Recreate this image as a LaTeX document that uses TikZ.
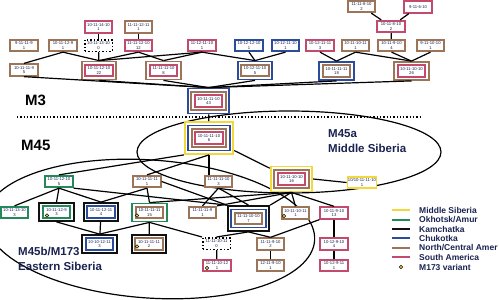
\documentclass[tikz,border=0pt]{standalone}
\usepackage{fontspec}
\setmainfont{Liberation Sans}
\usetikzlibrary{calc}
\definecolor{msyellow}{HTML}{F2D93B}
\definecolor{okgreen}{HTML}{23895A}
\definecolor{kablack}{HTML}{111111}
\definecolor{chblue}{HTML}{2B4C9A}
\definecolor{natan}{HTML}{9C7558}
\definecolor{sared}{HTML}{C24A6C}
\definecolor{inknavy}{HTML}{1A2350}

\begin{document}
\begin{tikzpicture}[
    x=1pt, y=-1pt,
    font=\fontsize{4.2}{4.7}\selectfont,
    hap/.style={draw=#1, fill=white, line width=1.8pt, minimum width=27.5pt, minimum height=11.5pt, inner sep=0.5pt, align=center, text=inknavy},
    ghost/.style={draw=black, dotted, fill=white, line width=1.5pt, minimum width=27.5pt, minimum height=11.5pt, inner sep=0.5pt, align=center, text=inknavy},
    ringa/.style={draw=#1, fill=white, line width=1.8pt, minimum width=34.5pt, minimum height=18pt, inner sep=0pt},
    ringb/.style={ringa=#1, minimum width=41.5pt, minimum height=25pt},
    ringc/.style={ringa=#1, minimum width=48.5pt, minimum height=32pt},
    link/.style={draw=black, line width=1.2pt},
    zone/.style={draw=black, line width=1.2pt},
    split/.style={draw=black, dotted, line width=1.3pt},
    clade/.style={font=\bfseries\fontsize{15}{18}\selectfont, text=black, anchor=base west, inner sep=0pt},
    region/.style={font=\bfseries\fontsize{11.5}{15}\selectfont, text=inknavy, align=left, anchor=north west, inner sep=0pt},
    key/.style={font=\bfseries\fontsize{8.5}{10}\selectfont, text=inknavy, anchor=west, inner sep=0pt},
    swatch/.style={line width=2pt},
    vmark/.style={circle, fill=msyellow, draw=kablack, line width=0.5pt, inner sep=0pt, minimum size=3.5pt},
]
    \useasboundingbox (0,0) rectangle (499,300);

    % =====================================================================
    % ZONES
    % =====================================================================
    \draw[zone] (289,152) ellipse [x radius=152, y radius=41];
    \draw[zone, rotate around={-4:(150,229)}] (150,229) ellipse [x radius=165, y radius=69];
    \draw[split] (17,117) -- (422,117);

    \node[clade] (lblm3) at (25,105) {M3};
    \node[clade] (lblm45) at (21,150) {M45};
    \node[region] (lblm45a) at (328,129) {M45a\\Middle Siberia};
    \node[region] (lblm45b) at (18,247) {M45b/M173\\Eastern Siberia};

    % =====================================================================
    % M3 NETWORK
    % =====================================================================
    \node[hap=natan] (a1) at (361.5,6.5) {11-11-8-10\\2};
    \node[hap=sared] (a2) at (418,7) {9-11-6-10};
    \node[hap=sared] (a3) at (391,26.5) {10-11-8-10\\2};

    \node[hap=sared] (b1) at (98.5,27) {10-11-14-10\\1};
    \node[hap=natan] (b2) at (138.5,27) {11-11-12-11\\1};

    \node[hap=natan] (c1) at (24,45.5) {9-11-11-9\\1};
    \node[hap=natan] (c2) at (63,45.5) {10-11-12-9\\1};
    \node[ghost] (c3) at (98.5,45.5) {10-11-13-10\\0};
    \node[hap=sared] (c4) at (138.5,45.5) {11-11-12-10\\12};
    \node[hap=sared] (c5) at (202,45.5) {11-12-11-10\\1};
    \node[hap=chblue] (c6) at (249,45.5) {10-12-12-10\\1};
    \node[hap=chblue] (c7) at (285.5,45.5) {10-12-11-10\\1};
    \node[hap=sared] (c8) at (320,45.5) {10-12-11-11\\3};
    \node[hap=natan] (c9) at (355.5,45.5) {10-11-10-11\\1};
    \node[hap=natan] (c10) at (391.5,45.5) {10-11-9-10\\4};
    \node[hap=natan] (c11) at (430.5,45.5) {9-11-10-10\\1};

    \node[hap=natan] (d1) at (24,70) {10-11-11-9\\5};
    \node[ringa=natan] (d2) at (99,70.5) {};
    \node[hap=sared] (d2in) at (99,70.5) {10-11-12-10\\22};
    \node[ringa=natan] (d3) at (163.5,70.5) {};
    \node[hap=sared] (d3in) at (163.5,70.5) {11-11-11-10\\8};
    \node[ringa=chblue] (d4) at (255,70.5) {};
    \node[hap=natan] (d4in) at (255,70.5) {10-12-11-10\\5};
    \node[ringa=chblue] (d5) at (336.5,71) {};
    \node[hap=natan] (d5in) at (336.5,71) {10-11-11-11\\18};
    \node[ringa=natan] (d6) at (411.5,71) {};
    \node[hap=sared] (d6in) at (411.5,71) {10-11-10-10\\26};

    \node[ringb=chblue] (root3) at (208.5,101) {};
    \node[ringa=natan] (root3b) at (208.5,101) {};
    \node[hap=sared] (root3in) at (208.5,101) {10-11-11-10\\43};

    \draw[link] (a1) -- (a3);
    \draw[link] (a2) -- (a3);
    \draw[link] (a3) -- (c10);
    \draw[link] (b1) -- (c3);
    \draw[link] (b2) -- (c4);
    \draw[link] (c2.south) -- (d1.north);
    \draw[link] (c2.south) -- (d2.north);
    \draw[link] (c3) -- (d2);
    \draw[link] (c4.south) -- (d2.north);
    \draw[link] (c4.south) -- (d3.north);
    \draw[link] (c5.south) -- (d2.north);
    \draw[link] (c5.south) -- (d3.north);
    \draw[link] (c5.south) -- (d4.north);
    \draw[link] (c6.south) -- (d4.north);
    \draw[link] (c7.south) -- (d4.north);
    \draw[link] (c8.south) -- (d5.north);
    \draw[link] (c9.south) -- (d5.north);
    \draw[link] (c9.south) -- (d6.north);
    \draw[link] (c10.south) -- (d6.north);
    \draw[link] (c11.south) -- (d6.north);
    \draw[link] (d1.south) -- (root3.north);
    \draw[link] (d2.south) -- (root3.north);
    \draw[link] (d3.south) -- (root3.north);
    \draw[link] (d4.south) -- (root3.north);
    \draw[link] (d5.south) -- (root3.north);
    \draw[link] (d6.south) -- (root3.north);

    % =====================================================================
    % M45 NETWORK
    % =====================================================================
    \node[ringc=msyellow] (root45) at (209,138) {};
    \node[ringb=chblue] (root45b) at (209,138) {};
    \node[ringa=natan] (root45c) at (209,138) {};
    \node[hap=sared] (root45in) at (209,138) {10-11-11-10\\6};
    \draw[link] (root3) -- (root45);

    \node[hap=okgreen] (ok5) at (59,181.5) {10-11-12-10\\5};
    \node[hap=natan] (nc1) at (147,181.5) {10-11-11-11\\1};
    \node[hap=natan] (nc3) at (218.5,181.5) {11-11-11-10\\3};
    \node[ringb=msyellow] (nc16) at (291.5,179) {};
    \node[ringa=natan] (nc16b) at (291.5,179) {};
    \node[hap=sared] (nc16in) at (291.5,179) {10-11-10-10\\16};
    \node[hap=msyellow] (ms1) at (362,182.5) {10/10-11-11-10\\1};

    \node[hap=okgreen] (ok3) at (14.5,212.5) {10-11-13-10\\3};
    \node[ringa=kablack] (ka3) at (56.5,212) {};
    \node[hap=okgreen] (ka3in) at (56.5,212) {10-11-12-9\\3};
    \node[ringa=kablack] (ch4) at (101,212) {};
    \node[hap=chblue] (ch4in) at (101,212) {10-11-12-11\\4};
    \node[ringa=okgreen] (ok15) at (149.5,212.5) {};
    \node[hap=natan] (ok15in) at (149.5,212.5) {10-11-11-11\\15};
    \node[hap=natan] (nc1b) at (202.5,212.5) {11-11-11-9\\1};
    \node[ringb=kablack] (ch7) at (248.5,218.5) {};
    \node[ringa=chblue] (ch7b) at (248.5,218.5) {};
    \node[hap=natan] (ch7in) at (248.5,218.5) {11-11-10-10\\7};
    \node[hap=natan] (nc1c) at (295.5,213) {10-11-10-11\\1};
    \node[hap=sared] (sa13) at (334,213) {10-11-9-10\\13};

    \node[ringa=kablack] (ch3) at (99.5,244) {};
    \node[hap=chblue] (ch3in) at (99.5,244) {10-10-12-11\\3};
    \node[ringa=kablack] (ka2) at (149,244) {};
    \node[hap=natan] (ka2in) at (149,244) {10-11-11-11\\2};
    \node[ghost] (gap0) at (216.5,243.5) {11-11-10-11\\0};
    \node[hap=natan] (nc2) at (270.5,244) {11-11-9-10\\2};
    \node[hap=sared] (sa4) at (334,244) {10-12-9-10\\4};

    \node[hap=sared] (sa1) at (217,265.5) {11-11-10-12\\1};
    \node[hap=natan] (nc1d) at (270.5,265.5) {12-11-9-10\\1};
    \node[hap=sared] (sa1b) at (334,265.5) {10-12-9-11\\1};

    % M173 variant marks
    \node[vmark] (v1) at (47,215.5) {};
    \node[vmark] (v2) at (137,215.5) {};
    \node[vmark] (v3) at (137,246.5) {};
    \node[vmark] (v4) at (284,216) {};
    \node[vmark] (v5) at (207,268) {};

    \draw[link] (root45.south west) -- (ok5.north);
    \draw[link] (root45.south) -- (nc1.north);
    \draw[link] (root45.south) -- (root45.south |- nc3.north);
    \draw[link] (root45) -- (nc16);
    \draw[link] (ok5.south) -- (ok3.north);
    \draw[link] (ok5.south) -- (ka3.north);
    \draw[link] (ok5.south) -- (ch4.north);
    \draw[link] (ok5.south east) -- (ch7.north west);
    \draw[link] (nc1.south) -- (ch4.north);
    \draw[link] (nc1.south) -- (ok15.north);
    \draw[link] (nc1.east) -- (ch7.north west);
    \draw[link] (nc3.south) -- (nc1b.north);
    \draw[link] (nc3.south) -- (ch7.north);
    \draw[link] (nc16.south) -- (ok15.north);
    \draw[link] (nc16.south) -- (nc1b.north east);
    \draw[link] (nc16.south) -- (ch7.north east);
    \draw[link] (nc16.south) -- (nc1c.north);
    \draw[link] (nc16.south) -- (sa13.north);
    \draw[link] (nc16.east) -- (ms1.west);
    \draw[link] (ka3.south) -- (ch3.north);
    \draw[link] (ch4) -- (ch3);
    \draw[link] (ok15.south) -- (ch3.north);
    \draw[link] (ok15) -- (ka2);
    \draw[link] (ok15.south) -- (gap0.north west);
    \draw[link] (ch7.south) -- (gap0.north);
    \draw[link] (ch7.south) -- (nc2.north);
    \draw[link] (sa13.south west) -- (nc2.north);
    \draw[link] (sa13) -- (sa4);
    \draw[link] (sa4) -- (sa1b);
    \draw[link] (nc2) -- (nc1d);
    \draw[link] (gap0) -- (sa1);

    % =====================================================================
    % LEGEND
    % =====================================================================
    \draw[swatch, msyellow] (392,210) -- (410,210);
    \node[key] (keyms) at (419,210) {Middle Siberia};
    \draw[swatch, okgreen] (392,219.5) -- (410,219.5);
    \node[key] (keyok) at (419,219.5) {Okhotsk/Amur};
    \draw[swatch, kablack] (392,229) -- (410,229);
    \node[key] (keyka) at (419,229) {Kamchatka};
    \draw[swatch, chblue] (392,238) -- (410,238);
    \node[key] (keych) at (419,238) {Chukotka};
    \draw[swatch, natan] (392,247.5) -- (410,247.5);
    \node[key] (keync) at (419,247.5) {North/Central Amer};
    \draw[swatch, sared] (392,257) -- (410,257);
    \node[key] (keysa) at (419,257) {South America};
    \node[vmark] (keydot) at (401,267) {};
    \node[key] (keyvm) at (419,267) {M173 variant};

\end{tikzpicture}
\end{document}
